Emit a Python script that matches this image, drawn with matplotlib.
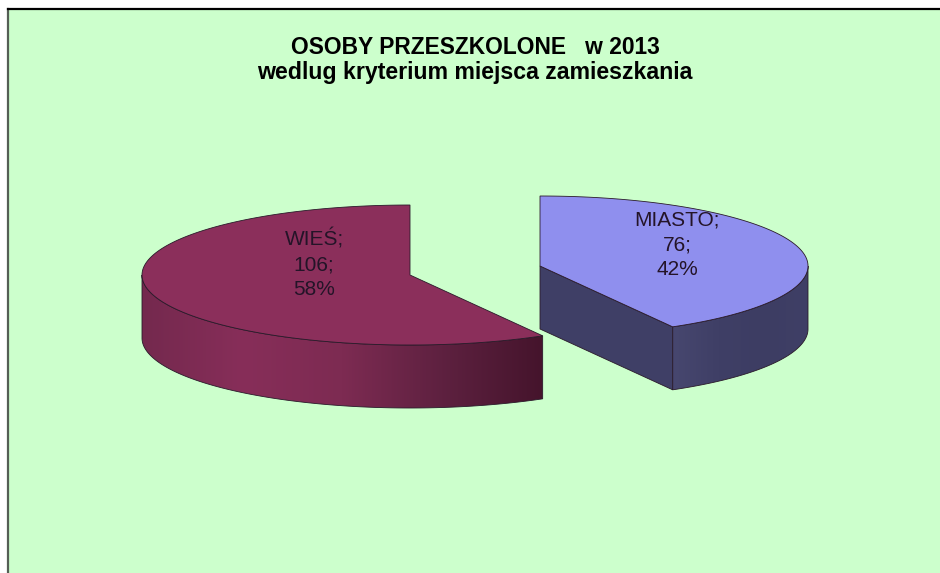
import numpy as np
import matplotlib
import matplotlib.pyplot as plt
from matplotlib.colors import LinearSegmentedColormap
from matplotlib.patches import Polygon, Rectangle

matplotlib.use('Agg')
plt.rcParams['font.family'] = ['Liberation Sans', 'DejaVu Sans']

# --- Data ---
CATEGORIES = ['MIASTO', 'WIEŚ']
VALUES = [76, 106]
PERCENT_LABELS = ['42%', '58%']
TITLE_LINES = ['OSOBY PRZESZKOLONE   w 2013', 'wedlug kryterium miejsca zamieszkania']

# --- Layout, in pixels of the picture ---
RX, RY, DEPTH = 268, 70, 63
APEX = {'MIASTO': (540, 266), 'WIEŚ': (410, 275)}
LABEL_POS = {'MIASTO': (677, 245), 'WIEŚ': (314, 264)}

TOP_COLORS = {'MIASTO': '#8f8fee', 'WIEŚ': '#8b2f5b'}
WALL_STOPS = {
    'MIASTO': ['#47476f', '#3f3f66', '#3d3d63', '#3f3f66'],
    'WIEŚ': ['#74294e', '#872e59', '#7d2b52', '#5e2140', '#45142c'],
}
CUT_COLOR = '#3f3f66'
EDGE = '#2a1a2a'
BACKGROUND = '#ccffcc'


def rim(cx, cy, start, end, n=200):
    # angles are clockwise from 12 o'clock, as in the pie
    a = np.radians(np.linspace(start, end, n))
    return np.column_stack([cx + RX * np.sin(a), cy - RY * np.cos(a)])


def draw_slice(ax, name, start, end):
    cx, cy = APEX[name]
    top = rim(cx, cy, start, end)

    # outer wall: only the part between 90 and 270 degrees faces the viewer
    front = rim(cx, cy, max(start, 90), min(end, 270))
    lowered = front[::-1] + [0, DEPTH]
    wall = Polygon(np.vstack([front, lowered]), closed=True, facecolor='none', edgecolor='none')
    ax.add_patch(wall)
    cmap = LinearSegmentedColormap.from_list(name, WALL_STOPS[name])
    x0, x1 = front[:, 0].min(), front[:, 0].max()
    y0, y1 = front[:, 1].min(), front[:, 1].max() + DEPTH
    grad = np.linspace(0, 1, 256).reshape(1, -1)
    im = ax.imshow(grad, cmap=cmap, extent=(x0, x1, y1, y0), aspect='auto', zorder=2)
    im.set_clip_path(wall)
    ax.add_patch(Polygon(np.vstack([front, lowered]), closed=True, facecolor='none',
                         edgecolor=EDGE, linewidth=0.6, zorder=3))

    # the cut side of the first slice is turned towards the viewer
    if name == 'MIASTO':
        corner = top[-1]
        cut = [(cx, cy), corner, corner + [0, DEPTH], (cx, cy + DEPTH)]
        ax.add_patch(Polygon(cut, closed=True, facecolor=CUT_COLOR, edgecolor=EDGE,
                             linewidth=0.6, zorder=3))

    ax.add_patch(Polygon(np.vstack([[cx, cy], top]), closed=True, facecolor=TOP_COLORS[name],
                         edgecolor=EDGE, linewidth=0.6, zorder=4))


fig = plt.figure(figsize=(9.4, 5.73), dpi=100, facecolor='white')
ax = fig.add_axes([0, 0, 1, 1])
ax.set_xlim(0, 940)
ax.set_ylim(573, 0)
ax.axis('off')

# chart area: open on the right and at the bottom
ax.add_patch(Rectangle((8, 9), 940, 573, facecolor=BACKGROUND, edgecolor='none', zorder=0))
ax.plot([8, 8], [9, 573], color='#555f55', linewidth=1.6, zorder=1)
ax.plot([8, 940], [9, 9], color='black', linewidth=1.6, zorder=1)

total = sum(VALUES)
angle = 0
for name, value, pct in zip(CATEGORIES, VALUES, PERCENT_LABELS):
    sweep = 360 * value / total
    draw_slice(ax, name, angle, angle + sweep)
    angle += sweep
    x, y = LABEL_POS[name]
    ax.text(x, y, f'{name};\n{value};\n{pct}', ha='center', va='center', fontsize=15,
            color='#241428', linespacing=1.38, zorder=5)

ax.text(475, 47, TITLE_LINES[0], ha='center', va='center', fontsize=16.4, fontweight='bold', zorder=5)
ax.text(475, 73, TITLE_LINES[1], ha='center', va='center', fontsize=16.7, fontweight='bold', zorder=5)

ax.set_xlim(0, 940)
ax.set_ylim(573, 0)
fig.savefig('out.png', dpi=100)
